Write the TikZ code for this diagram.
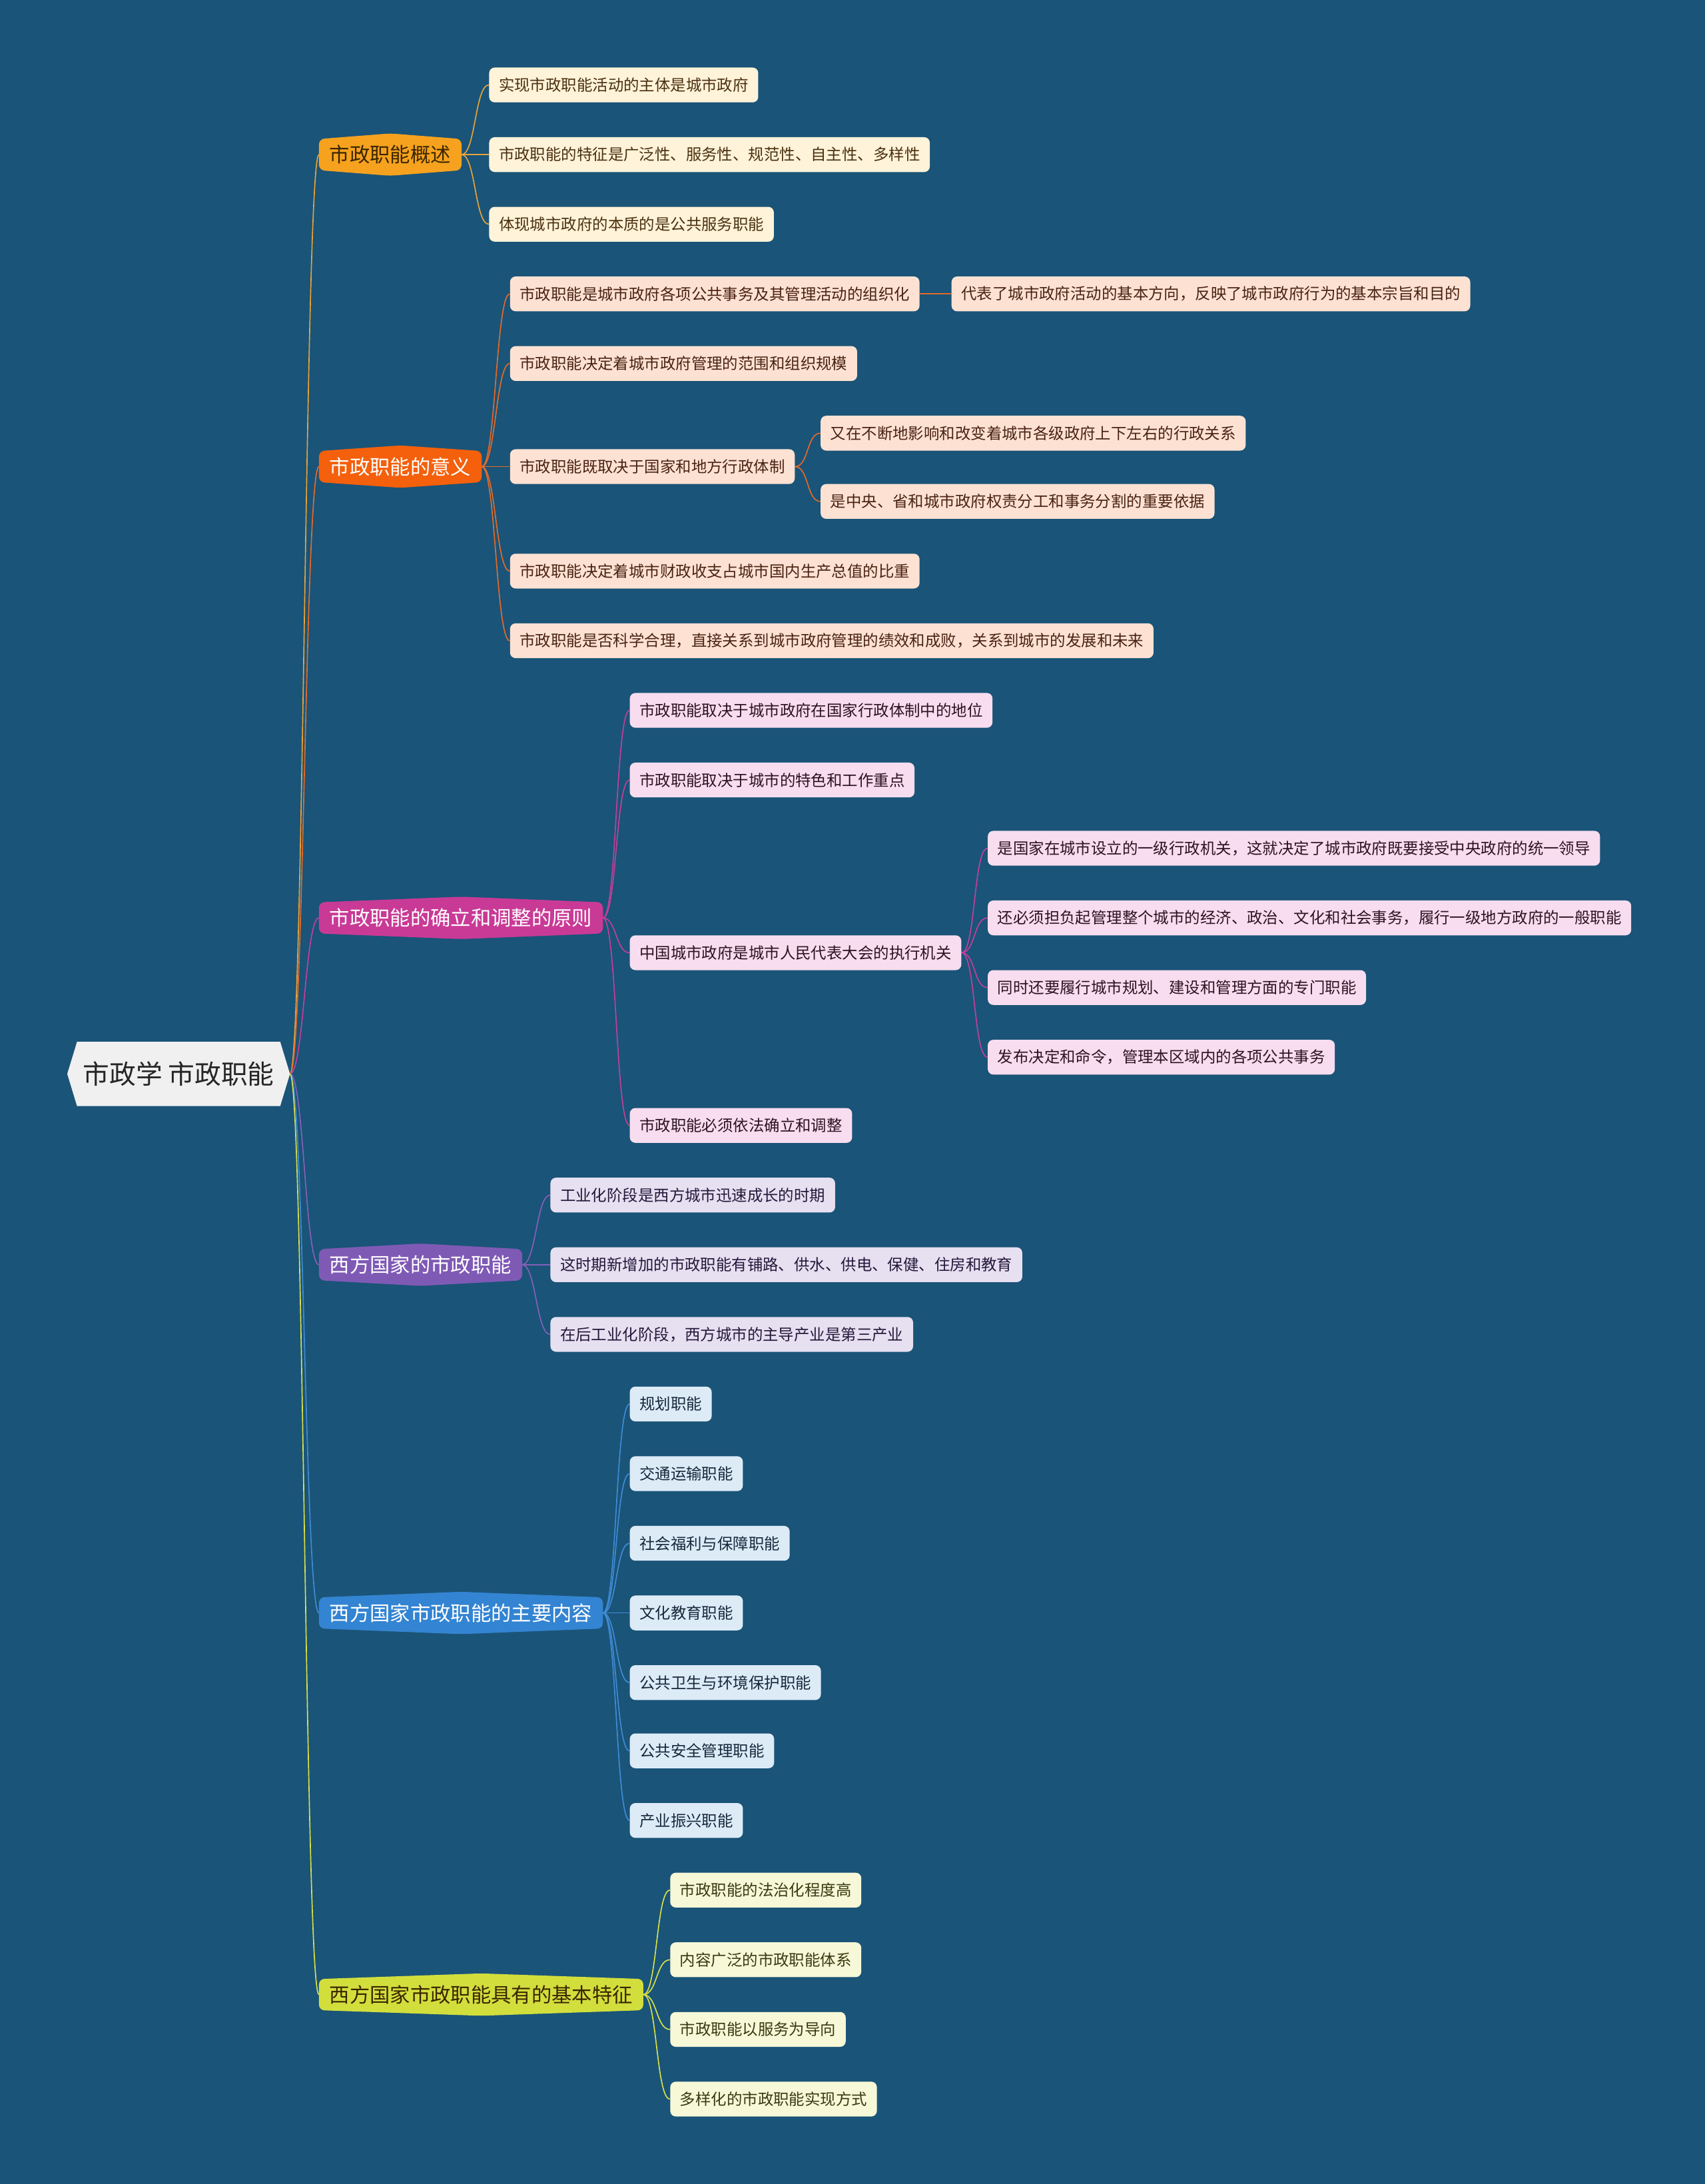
\documentclass[tikz,border=0pt]{standalone}
\usepackage{fontspec}
\setmainfont{Noto Sans CJK SC}
\pgfdeclarelayer{bgl}
\pgfdeclarelayer{edgel}
\pgfdeclarelayer{shapel}
\pgfsetlayers{bgl,edgel,shapel,main}
\definecolor{bgc}{HTML}{1A5478}
\definecolor{rootF}{HTML}{F0F0F0}
\definecolor{aF}{HTML}{F6A21E}\definecolor{aL}{HTML}{FFF3D9}\definecolor{aC}{HTML}{E8A33A}\definecolor{aT}{HTML}{3A2600}
\definecolor{bF}{HTML}{F4600C}\definecolor{bL}{HTML}{FDE2D3}\definecolor{bC}{HTML}{E46A2A}
\definecolor{cF}{HTML}{C93A96}\definecolor{cL}{HTML}{F7DDEF}\definecolor{cC}{HTML}{C0409A}
\definecolor{dF}{HTML}{7F5AB5}\definecolor{dL}{HTML}{E6E0F1}\definecolor{dC}{HTML}{8560B8}
\definecolor{eF}{HTML}{3384D2}\definecolor{eL}{HTML}{DDEBF7}\definecolor{eC}{HTML}{3F8BD4}
\definecolor{fF}{HTML}{D2DE3C}\definecolor{fL}{HTML}{F6F8D8}\definecolor{fC}{HTML}{D8E04A}
\definecolor{aLT}{HTML}{4A3010}\definecolor{bLT}{HTML}{4A2212}\definecolor{cLT}{HTML}{2E1224}
\definecolor{dLT}{HTML}{24183A}\definecolor{eLT}{HTML}{16283A}\definecolor{fLT}{HTML}{3A3A10}
\tikzset{
  leaf/.style={rounded corners=4pt, minimum height=25pt, inner xsep=7pt, inner ysep=0pt, anchor=west, font=\fontsize{11.2pt}{13pt}\selectfont},
  lone/.style={minimum height=22pt, inner xsep=7.5pt, inner ysep=0pt, anchor=west, font=\fontsize{14.5pt}{17pt}\selectfont},
  la/.style={leaf, fill=aL, text=aLT}, lb/.style={leaf, fill=bL, text=bLT},
  lc/.style={leaf, fill=cL, text=cLT}, ld/.style={leaf, fill=dL, text=dLT},
  le/.style={leaf, fill=eL, text=eLT}, lf/.style={leaf, fill=fL, text=fLT},
  conn/.style={line width=0.8pt},
}
\newcommand\lonefill[2]{\begin{pgfonlayer}{shapel}\fill[#2,rounded corners=4pt] (#1.north west) -- ([yshift=4pt]#1.north) -- (#1.north east) -- (#1.south east) -- ([yshift=-4pt]#1.south) -- (#1.south west) -- cycle;\end{pgfonlayer}}
\newcommand\cn[3]{\draw[conn,#3] (#1) .. controls +(10,0) and +(-10,0) .. (#2);}
\begin{document}
\begin{tikzpicture}[x=1pt,y=-1pt]
\useasboundingbox (0,0) rectangle (1224,1568);
\begin{pgfonlayer}{bgl}\fill[bgc] (0,0) rectangle (1224,1568);\end{pgfonlayer}
% root
\node[minimum width=145.5pt, minimum height=45.7pt, inner sep=0pt, text=black!85, font=\fontsize{19pt}{22pt}\selectfont] (root) at (128.25,771) {市政学 市政职能};
\begin{pgfonlayer}{shapel}\fill[rootF] (root.north west) -- (root.north east) -- ([xshift=7pt]root.east) -- (root.south east) -- (root.south west) -- ([xshift=-7pt]root.west) -- cycle;\end{pgfonlayer}
\coordinate (rootR) at ([xshift=7pt]root.east);
% A
\node[lone, text=aT] (A) at (229,111) {市政职能概述}; \lonefill{A}{aF}
\node[la] (A1) at (351,61) {实现市政职能活动的主体是城市政府};
\node[la] (A2) at (351,111) {市政职能的特征是广泛性、服务性、规范性、自主性、多样性};
\node[la] (A3) at (351,161) {体现城市政府的本质的是公共服务职能};
% B
\node[lone, text=white] (B) at (229,335) {市政职能的意义}; \lonefill{B}{bF}
\node[lb] (B1) at (366,211) {市政职能是城市政府各项公共事务及其管理活动的组织化};
\node[lb] (B1a) at (683,211) {代表了城市政府活动的基本方向，反映了城市政府行为的基本宗旨和目的};
\node[lb] (B2) at (366,261) {市政职能决定着城市政府管理的范围和组织规模};
\node[lb] (B3) at (366,335) {市政职能既取决于国家和地方行政体制};
\node[lb] (B3a) at (589,311) {又在不断地影响和改变着城市各级政府上下左右的行政关系};
\node[lb] (B3b) at (589,360) {是中央、省和城市政府权责分工和事务分割的重要依据};
\node[lb] (B4) at (366,410) {市政职能决定着城市财政收支占城市国内生产总值的比重};
\node[lb] (B5) at (366,460) {市政职能是否科学合理，直接关系到城市政府管理的绩效和成败，关系到城市的发展和未来};
% C
\node[lone, text=white] (C) at (229,659) {市政职能的确立和调整的原则}; \lonefill{C}{cF}
\node[lc] (C1) at (452,510) {市政职能取决于城市政府在国家行政体制中的地位};
\node[lc] (C2) at (452,560) {市政职能取决于城市的特色和工作重点};
\node[lc] (C3) at (452,684) {中国城市政府是城市人民代表大会的执行机关};
\node[lc] (C3a) at (709,609) {是国家在城市设立的一级行政机关，这就决定了城市政府既要接受中央政府的统一领导};
\node[lc] (C3b) at (709,659) {还必须担负起管理整个城市的经济、政治、文化和社会事务，履行一级地方政府的一般职能};
\node[lc] (C3c) at (709,709) {同时还要履行城市规划、建设和管理方面的专门职能};
\node[lc] (C3d) at (709,759) {发布决定和命令，管理本区域内的各项公共事务};
\node[lc] (C4) at (452,808) {市政职能必须依法确立和调整};
% D
\node[lone, text=white] (D) at (229,908) {西方国家的市政职能}; \lonefill{D}{dF}
\node[ld] (D1) at (395,858) {工业化阶段是西方城市迅速成长的时期};
\node[ld] (D2) at (395,908) {这时期新增加的市政职能有铺路、供水、供电、保健、住房和教育};
\node[ld] (D3) at (395,958) {在后工业化阶段，西方城市的主导产业是第三产业};
% E
\node[lone, text=white] (E) at (229,1158) {西方国家市政职能的主要内容}; \lonefill{E}{eF}
\node[le] (E1) at (452,1008) {规划职能};
\node[le] (E2) at (452,1058) {交通运输职能};
\node[le] (E3) at (452,1108) {社会福利与保障职能};
\node[le] (E4) at (452,1158) {文化教育职能};
\node[le] (E5) at (452,1208) {公共卫生与环境保护职能};
\node[le] (E6) at (452,1257) {公共安全管理职能};
\node[le] (E7) at (452,1307) {产业振兴职能};
% F
\node[lone, text=aT] (F) at (229,1432) {西方国家市政职能具有的基本特征}; \lonefill{F}{fF}
\node[lf] (F1) at (481,1357) {市政职能的法治化程度高};
\node[lf] (F2) at (481,1407) {内容广泛的市政职能体系};
\node[lf] (F3) at (481,1457) {市政职能以服务为导向};
\node[lf] (F4) at (481,1507) {多样化的市政职能实现方式};
% connectors
\begin{pgfonlayer}{edgel}
\cn{rootR}{A.west}{aC}\cn{rootR}{B.west}{bC}\cn{rootR}{C.west}{cC}
\cn{rootR}{D.west}{dC}\cn{rootR}{E.west}{eC}\cn{rootR}{F.west}{fC}
\cn{A.east}{A1.west}{aC}\cn{A.east}{A2.west}{aC}\cn{A.east}{A3.west}{aC}
\cn{B.east}{B1.west}{bC}\cn{B.east}{B2.west}{bC}\cn{B.east}{B3.west}{bC}\cn{B.east}{B4.west}{bC}\cn{B.east}{B5.west}{bC}
\cn{B1.east}{B1a.west}{bC}\cn{B3.east}{B3a.west}{bC}\cn{B3.east}{B3b.west}{bC}
\cn{C.east}{C1.west}{cC}\cn{C.east}{C2.west}{cC}\cn{C.east}{C3.west}{cC}\cn{C.east}{C4.west}{cC}
\cn{C3.east}{C3a.west}{cC}\cn{C3.east}{C3b.west}{cC}\cn{C3.east}{C3c.west}{cC}\cn{C3.east}{C3d.west}{cC}
\cn{D.east}{D1.west}{dC}\cn{D.east}{D2.west}{dC}\cn{D.east}{D3.west}{dC}
\cn{E.east}{E1.west}{eC}\cn{E.east}{E2.west}{eC}\cn{E.east}{E3.west}{eC}\cn{E.east}{E4.west}{eC}\cn{E.east}{E5.west}{eC}\cn{E.east}{E6.west}{eC}\cn{E.east}{E7.west}{eC}
\cn{F.east}{F1.west}{fC}\cn{F.east}{F2.west}{fC}\cn{F.east}{F3.west}{fC}\cn{F.east}{F4.west}{fC}
\end{pgfonlayer}
\end{tikzpicture}
\end{document}
